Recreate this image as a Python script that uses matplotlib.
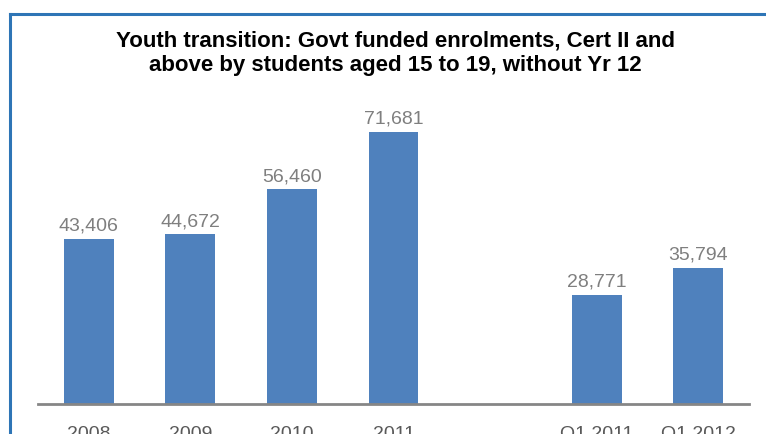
import matplotlib
matplotlib.use("Agg")
import matplotlib.pyplot as plt
from matplotlib.lines import Line2D

# chart data
categories = ["2008", "2009", "2010", "2011", "", "Q1 2011", "Q1 2012"]
values = [43406, 44672, 56460, 71681, None, 28771, 35794]

title = "Youth transition: Govt funded enrolments, Cert II and\nabove by students aged 15 to 19, without Yr 12"

plt.rcParams['font.family'] = ['Liberation Sans', 'DejaVu Sans']

W, H = 766, 434
fig = plt.figure(figsize=(W / 100, H / 100), dpi=100)
ax = fig.add_axes([38 / W, 1 - 404 / H, (749 - 38) / W, (404 - 100) / H])

xs = list(range(len(categories)))
bx = [x for x, v in zip(xs, values) if v is not None]
bv = [v for v in values if v is not None]
ax.bar(bx, bv, width=0.49, color="#4F81BD")
for x, v in zip(bx, bv):
    ax.text(x, v + 2150, f"{v:,}", ha="center", va="baseline", fontsize=14, color="#7F7F7F")

ax.set_xlim(-0.5, len(categories) - 0.5)
ax.set_ylim(0, 80000)
ax.set_xticks(xs)
ax.set_xticklabels(categories, fontsize=14, color="#595959")
ax.tick_params(axis="x", length=0, pad=16)
ax.set_yticks([])
for s in ["top", "right", "left"]:
    ax.spines[s].set_visible(False)
ax.spines["bottom"].set_color("#868686")
ax.spines["bottom"].set_linewidth(2)

fig.text(395 / W, 1 - 53 / H, title, ha="center", va="center", fontsize=16,
         fontweight="bold", linespacing=1.2)

# blue frame around the chart
blue = "#2E75B6"
fig.add_artist(Line2D([10 / W, 10 / W], [0, 1 - 14 / H], color=blue, lw=2.2, transform=fig.transFigure))
fig.add_artist(Line2D([10 / W, 1], [1 - 14 / H, 1 - 14 / H], color=blue, lw=2.2, transform=fig.transFigure))

fig.savefig("out.png", dpi=100)
